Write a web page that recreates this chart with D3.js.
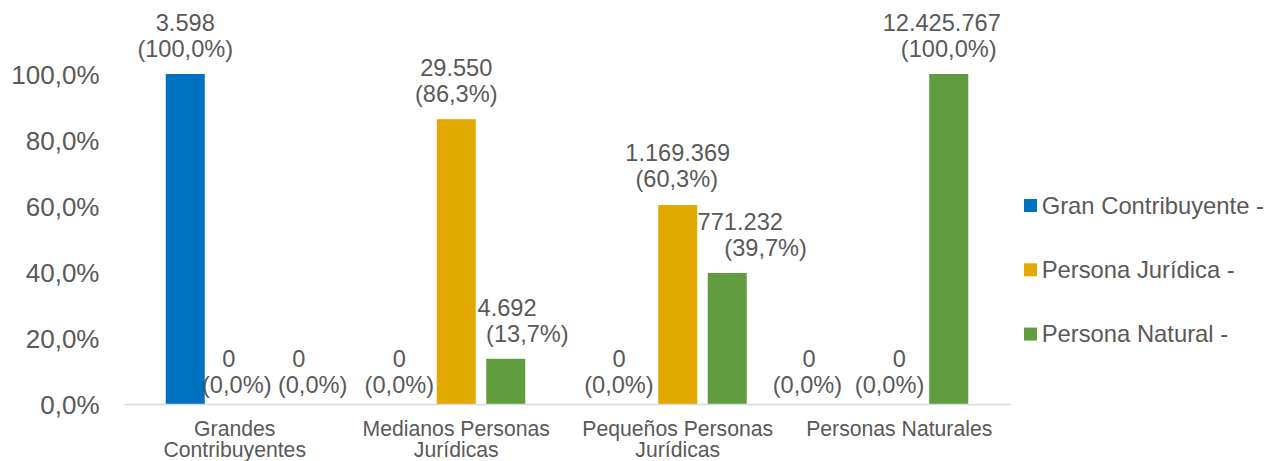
<!DOCTYPE html>
<html>
<head>
<meta charset="utf-8">
<script src="https://cdn.jsdelivr.net/npm/d3@7"></script>
<style>
  html, body { margin: 0; padding: 0; background: #ffffff; }
  svg { display: block; font-family: "Liberation Sans", Arial, sans-serif; }
</style>
</head>
<body>
<svg id="chart" width="1267" height="461"></svg>
<script>
// ---- data ----
const categories = ["Grandes Contribuyentes", "Medianos Personas Jurídicas", "Pequeños Personas Jurídicas", "Personas Naturales"];
const seriesNames = ["Gran Contribuyente -", "Persona Jurídica -", "Persona Natural -"];
const granCounts = [3598, 0, 0, 0];
const juridicaCounts = [0, 29550, 1169369, 0];
const naturalCounts = [0, 4692, 771232, 12425767];
const granPct = [100.0, 0.0, 0.0, 0.0];
const juridicaPct = [0.0, 86.3, 60.3, 0.0];
const naturalPct = [0.0, 13.7, 39.7, 100.0];
const yTicks = [0, 20, 40, 60, 80, 100];

// ---- layout / style ----
const colors = ["#0070C0", "#E2AA00", "#629C41"];
const textColor = "#595959";
// label nudges [dx line1, dx line2, dy] per series, per category
const labelNudge = [
  [[0, 0, 0], [-7.4, -7.4, 6], [-9.3, -9.3, 6], [-40.6, -42.3, 6]],
  [[-6, 2, 6], [0, 0, 0], [0, -1, -1], [0, -9.7, 6]],
  [[14.6, 28.4, 6], [1.3, 21.6, 0], [13, 38.4, 0], [-7, 0, 0]]
];

const countsBySeries = [granCounts, juridicaCounts, naturalCounts];
const pctBySeries = [granPct, juridicaPct, naturalPct];

const locale = d3.formatLocale({ decimal: ",", thousands: ".", grouping: [3], currency: ["", ""] });
const fmtCount = locale.format(",d");
const fmtPct = locale.format(".1f");

const svg = d3.select("#chart");
const plot = { left: 124, right: 1010, top: 74, bottom: 404 };

const x = d3.scaleBand().domain(categories).range([plot.left, plot.right]).padding(0);
const xs = d3.scaleBand().domain(seriesNames).range([-69, 69]).paddingInner(0.212).paddingOuter(0);
const y = d3.scaleLinear().domain([0, 100]).range([plot.bottom, plot.top]);

// y axis tick labels
const yAxis = d3.axisLeft(y).tickValues(yTicks).tickSize(0).tickPadding(0)
  .tickFormat(d => fmtPct(d) + "%");
const gy = svg.append("g").attr("transform", `translate(99.5,0)`).call(yAxis);
gy.select(".domain").remove();
gy.selectAll("text").attr("fill", textColor).style("font-size", "26px")
  .style("font-family", '"Liberation Sans", Arial, sans-serif').attr("dy", "0.36em");

// bars
const rows = [];
seriesNames.forEach((s, si) => {
  categories.forEach((c, ci) => {
    rows.push({ s, si, c, ci, count: countsBySeries[si][ci], pct: pctBySeries[si][ci] });
  });
});

svg.append("g").selectAll("rect").data(rows.filter(d => d.pct > 0)).join("rect")
  .attr("x", d => x(d.c) + x.bandwidth() / 2 + xs(d.s))
  .attr("width", xs.bandwidth())
  .attr("y", d => y(d.pct))
  .attr("height", d => y(0) - y(d.pct))
  .attr("fill", d => colors[d.si]);

// x axis line
const xAxis = d3.axisBottom(x).tickSize(0).tickFormat("");
const gx = svg.append("g").attr("transform", `translate(0,${plot.bottom})`).call(xAxis);
gx.select(".domain").attr("stroke", "#D9D9D9").attr("stroke-width", 1.5);

// category labels with wrapping
const catG = svg.append("g");
categories.forEach(c => {
  const t = catG.append("text").attr("text-anchor", "middle")
    .attr("x", x(c) + x.bandwidth() / 2).attr("y", 436)
    .attr("fill", textColor).style("font-size", "21.2px");
  const words = c.split(" ");
  let line = [];
  let tspan = t.append("tspan").attr("x", x(c) + x.bandwidth() / 2).attr("dy", 0);
  words.forEach(w => {
    line.push(w);
    tspan.text(line.join(" "));
    if (tspan.node().getComputedTextLength() > 200 && line.length > 1) {
      line.pop();
      tspan.text(line.join(" "));
      line = [w];
      tspan = t.append("tspan").attr("x", x(c) + x.bandwidth() / 2).attr("dy", 20.5).text(w);
    }
  });
});

// data labels
const lblG = svg.append("g");
rows.forEach(d => {
  const [dx1, dx2, dy] = labelNudge[d.si][d.ci];
  const cx = x(d.c) + x.bandwidth() / 2 + xs(d.s) + xs.bandwidth() / 2;
  const base2 = y(d.pct) - 17 + dy;
  const base1 = base2 - 26;
  lblG.append("text").attr("text-anchor", "middle").attr("x", cx + dx1).attr("y", base1)
    .attr("fill", textColor).style("font-size", "23.6px").text(fmtCount(d.count));
  lblG.append("text").attr("text-anchor", "middle").attr("x", cx + dx2).attr("y", base2)
    .attr("fill", textColor).style("font-size", "23.6px").text("(" + fmtPct(d.pct) + "%)");
});

// legend
const legend = svg.append("g");
seriesNames.forEach((s, i) => {
  const cy = 205.5 + i * 64.3;
  legend.append("rect").attr("x", 1024).attr("y", cy - 6.5).attr("width", 13).attr("height", 13)
    .attr("fill", colors[i]);
  legend.append("text").attr("x", 1041.7).attr("y", cy + 8).attr("fill", textColor)
    .style("font-size", "23.8px").text(s);
});
</script>
</body>
</html>
